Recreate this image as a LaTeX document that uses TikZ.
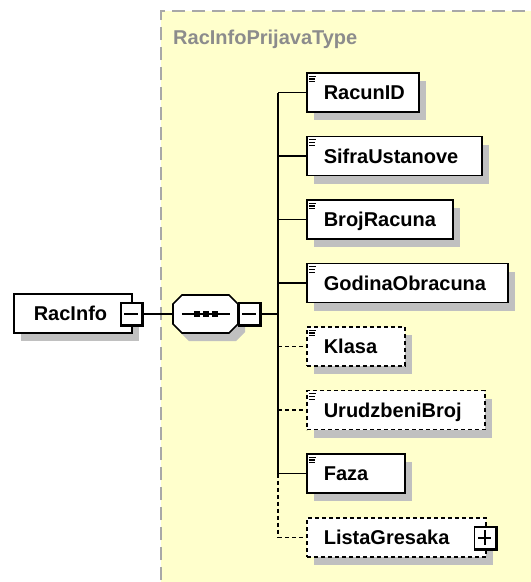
\documentclass[tikz,border=0pt]{standalone}
\usepackage{fontspec}
\setmainfont{Liberation Sans}
\usetikzlibrary{shadows}
\definecolor{bgyellow}{HTML}{FFFFCC}
\definecolor{shadowgray}{HTML}{C0C0C0}
\definecolor{framegray}{HTML}{A8A8A8}
\definecolor{titlegray}{HTML}{8C8C8C}
\newcommand\elemicon[1]{%
  \draw[line width=1.2pt] ([xshift=3pt,yshift=-4pt]#1.north west) -- ++(7pt,0pt);
  \draw[line width=1.2pt] ([xshift=3pt,yshift=-6.7pt]#1.north west) -- ++(6pt,0pt);
  \draw[line width=1.2pt] ([xshift=3pt,yshift=-9.4pt]#1.north west) -- ++(6pt,0pt);
}
\newcommand\boxedge[1]{%
  \draw[line width=2.6pt] (#1.north east) -- (#1.south east) -- (#1.south west);
}
\begin{document}
\begin{tikzpicture}[x=1pt,y=-1pt,
  elem/.style={draw=black, line width=1.6pt, fill=white, inner sep=0pt,
    minimum height=39pt, anchor=west, text height=14.5pt, text depth=0pt,
    font=\fontsize{20}{24}\selectfont\bfseries,
    drop shadow={shadow xshift=7pt, shadow yshift=-8pt, fill=shadowgray, draw=none, opacity=1}},
  optelem/.style={elem, dash pattern=on 4pt off 3pt},
  pmbox/.style={draw=black, line width=1.4pt, fill=white, inner sep=0pt,
    minimum width=21pt, minimum height=22pt},
  conn/.style={draw=black, line width=1.6pt},
  optconn/.style={conn, dash pattern=on 4pt off 3pt}
]
\useasboundingbox (0,0) rectangle (531,582);
\fill[white] (0,0) rectangle (531,582);
\begin{scope}
\clip (0,0) rectangle (531,582);
\fill[bgyellow] (161,11) rectangle (560,620);
\draw[framegray, line width=1.5pt, dash pattern=on 13pt off 7pt] (161,620) -- (161,11) -- (560,11);
\end{scope}
\node[anchor=base west, text=titlegray, font=\fontsize{20}{24}\selectfont\bfseries, inner sep=0pt] (title) at (173,44) {RacInfoPrijavaType};

% root element
\node[elem] (racinfo) at (13,313.5) {\hbox to 118pt{\hspace{20pt}RacInfo\hfil}};
\node[pmbox] (rm) at (131.5,314) {};
\boxedge{rm}
\draw[line width=1.4pt] ([xshift=4pt]rm.west) -- ([xshift=-5pt]rm.east);

% sequence (octagon)
\node[inner sep=0pt, minimum width=65pt, minimum height=38pt] (seq) at (205.5,314) {};
\fill[shadowgray] (173+7+9,295+8) -- (238+7-9,295+8) -- (238+7,304+8) -- (238+7,324+8)
  -- (238+7-9,333+8) -- (173+7+9,333+8) -- (173+7,324+8) -- (173+7,304+8) -- cycle;
\draw[line width=1.6pt, fill=white] (173+9,295) -- (238-9,295) -- (238,304) -- (238,324)
  -- (238-9,333) -- (173+9,333) -- (173,324) -- (173,304) -- cycle;
\draw[line width=1.4pt] ([xshift=9pt]seq.west) -- ([xshift=-8pt]seq.east);
\foreach \xx in {197,206,215} \fill (\xx-2.8,311.2) rectangle (\xx+2.8,316.8);
\node[pmbox] (sm) at (249.5,314) {};
\boxedge{sm}
\draw[line width=1.4pt] ([xshift=4pt]sm.west) -- ([xshift=-5pt]sm.east);

\draw[conn] (rm.east) -- (seq.west);
\coordinate (bus) at (278,314);
\draw[conn] (sm.east) -- (bus);

% children
\node[elem] (racunid) at (306,92.5) {\hbox to 112pt{\hspace{17pt}RacunID\hfil}};
\node[elem] (sifra) at (306,156) {\hbox to 175pt{\hspace{17pt}SifraUstanove\hfil}};
\node[elem] (broj) at (306,219.5) {\hbox to 146pt{\hspace{17pt}BrojRacuna\hfil}};
\node[elem] (godina) at (306,283) {\hbox to 201pt{\hspace{17pt}GodinaObracuna\hfil}};
\node[optelem] (klasa) at (306,346.5) {\hbox to 98pt{\hspace{17pt}Klasa\hfil}};
\node[optelem] (urudz) at (306,410) {\hbox to 178pt{\hspace{17pt}UrudzbeniBroj\hfil}};
\node[elem] (faza) at (306,473.5) {\hbox to 98pt{\hspace{17pt}Faza\hfil}};
\node[optelem] (lista) at (306,537.5) {\hbox to 179pt{\hspace{17pt}ListaGresaka\hfil}};
\foreach \n in {racunid,sifra,broj,godina,klasa,urudz,faza} {\elemicon{\n}}
\node[pmbox] (lp) at (485,538) {};
\boxedge{lp}
\draw[line width=1.4pt] ([xshift=4pt]lp.west) -- ([xshift=-5pt]lp.east);
\draw[line width=1.4pt] ([yshift=-4pt]lp.north) -- ([yshift=5pt]lp.south);

% bus
\draw[conn] (bus |- racunid.west) -- (bus |- faza.west);
\draw[optconn] (bus |- faza.west) -- (bus |- lista.west);
\foreach \n in {racunid,sifra,broj,godina,faza} {\draw[conn] (bus |- \n.west) -- (\n.west);}
\foreach \n in {klasa,urudz,lista} {\draw[optconn] (bus |- \n.west) -- (\n.west);}
\end{tikzpicture}
\end{document}
